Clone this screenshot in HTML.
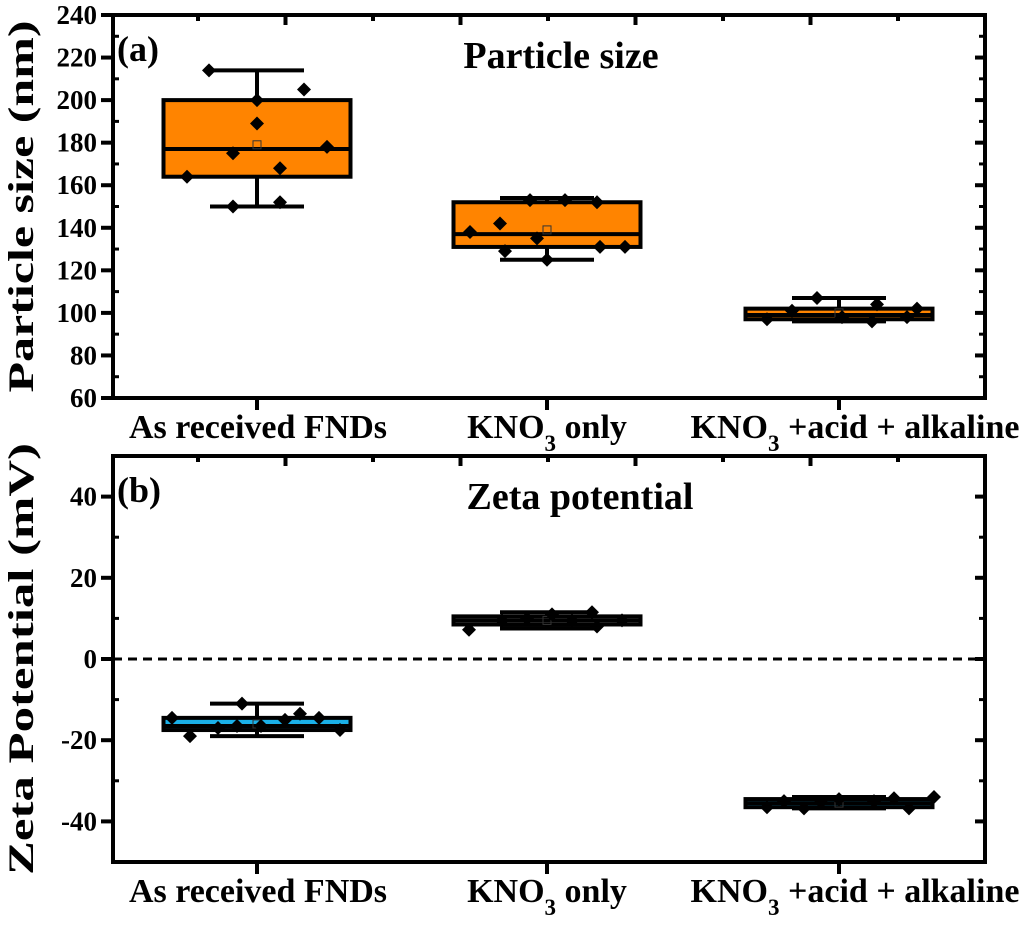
<!DOCTYPE html>
<html><head><meta charset="utf-8"><style>
body{margin:0;background:#fff}
svg text{font-family:"Liberation Serif",serif;font-weight:bold;fill:#000}
</style></head><body>
<svg id="c" width="1024" height="921" xmlns="http://www.w3.org/2000/svg"></svg>
<script>
const categories=["As received FNDs","KNO3 only","KNO3 +acid + alkaline"];
// panel a: [whiskLow,q1,median,q3,whiskHigh,mean]
const sizeStats=[[150,164,177,200,214,179],[125,131,137,152,154,139],[96,97,99,102,107,100]];
const sizePoints=[[214,205,200,189,178,175,168,164,152,150],[138,142,129,135,153,125,131,152,131,153],[97,101,107,98,96,104,98,102]];
const sizeOffsets=[[-48,47,0,0,70,-24,23,-70,23,-24],[-77,-47,-42,-10,-17,0,53,50,78,18],[-72,-47,-22,3,33,38,68,78]];
const sizeTicks=[60,80,100,120,140,160,180,200,220,240];
const zetaStats=[[-19,-17.5,-16.5,-14.5,-11,-16],[7.5,8.5,9.5,10.5,11.5,9.5],[-36.8,-36.5,-35.5,-34.5,-34,-35.5]];
const zetaPoints=[[-14.5,-19,-17,-16.5,-11,-16.5,-15,-13.5,-14.5,-17.5],[7.2,9.5,10,11,9.5,11.5,8,9.5],[-36.5,-35,-36.8,-35.2,-34.5,-35,-34.3,-36.8,-34]];
const zetaOffsets=[[-85,-67,-39,-20,-15,4,28,43,62,83],[-78,-45,-20,5,25,45,50,75],[-72,-55,-35,-18,0,35,55,70,95]];
const zetaTicks=[-40,-20,0,20,40];
const NS="http://www.w3.org/2000/svg";const svg=document.getElementById('c');
function el(t,a,p){const e=document.createElementNS(NS,t);for(const k in a)e.setAttribute(k,a[k]);(p||svg).appendChild(e);return e;}
const L=113,R=985,cx=[257,547,839],bw=187;
function panel(top,bot,min,max,stats,pts,offs,ticks,fills,title,titleX,lab,ytitle,ytLen,pid,dash){
 const y=v=>bot-(v-min)/(max-min)*(bot-top);
 const g=el('g',{});
 if(dash!==undefined){const d=el('line',{x1:L,x2:R,y1:y(0),y2:y(0),stroke:'#000','stroke-width':3,'stroke-dasharray':'9,6'},g);}
 stats.forEach((s,i)=>{const c=cx[i];const b=el('g',{},g);
  el('line',{x1:c,x2:c,y1:y(s[0]),y2:y(s[1]),stroke:'#000','stroke-width':4},b);
  el('line',{x1:c,x2:c,y1:y(s[3]),y2:y(s[4]),stroke:'#000','stroke-width':4},b);
  el('line',{x1:c-47,x2:c+47,y1:y(s[0]),y2:y(s[0]),stroke:'#000','stroke-width':4},b);
  el('line',{x1:c-47,x2:c+47,y1:y(s[4]),y2:y(s[4]),stroke:'#000','stroke-width':4},b);
  el('rect',{x:c-bw/2,y:y(s[3]),width:bw,height:y(s[1])-y(s[3]),fill:fills[i],stroke:'#000','stroke-width':4},b);
  el('line',{x1:c-bw/2,x2:c+bw/2,y1:y(s[2]),y2:y(s[2]),stroke:'#000','stroke-width':4},b);
  el('rect',{x:c-4,y:y(s[5])-4,width:8,height:8,fill:'none',stroke:'#333','stroke-width':1},b);
  pts[i].forEach((v,j)=>{const px=c+offs[i][j],py=y(v);const p=el('polygon',{points:`${px},${py-7} ${px+7},${py} ${px},${py+7} ${px-7},${py}`,fill:'#000'},b);});
 });
 const f=el('rect',{x:L,y:top,width:R-L,height:bot-top,fill:'none',stroke:'#000','stroke-width':4},g);
 const step=ticks[1]-ticks[0];
 ticks.forEach((t,k)=>{const ty=y(t);el('line',{x1:L-12,x2:L,y1:ty,y2:ty,stroke:'#000','stroke-width':4},g);el('line',{x1:R-10,x2:R,y1:ty,y2:ty,stroke:'#000','stroke-width':4},g);
  if(k<ticks.length-1){const my=y(t+step/2);el('line',{x1:L,x2:L+6,y1:my,y2:my,stroke:'#000','stroke-width':3},g);el('line',{x1:R-6,x2:R,y1:my,y2:my,stroke:'#000','stroke-width':3},g);}
  const tx=el('text',{x:L-16,y:ty+9,'text-anchor':'end','font-size':27},g);tx.textContent=t;});
 if(min<ticks[0]){const my=y(ticks[0]-step/2);el('line',{x1:L,x2:L+6,y1:my,y2:my,stroke:'#000','stroke-width':3},g);el('line',{x1:R-6,x2:R,y1:my,y2:my,stroke:'#000','stroke-width':3},g);}
 for(let i=0;i<10;i++){const x=198+i*87.5;if(x>=R)break;el('line',{x1:x,x2:x,y1:top,y2:top+(i%2?10:6),stroke:'#000','stroke-width':4},g);}
 cx.forEach(c=>el('line',{x1:c,x2:c,y1:bot,y2:bot+12,stroke:'#000','stroke-width':4},g));
 const tt=el('text',{x:titleX,y:top+53,'text-anchor':'middle','font-size':38},g);tt.textContent=title;
 const lb=el('text',{x:117,y:top+46,'font-size':36},g);lb.textContent=lab;
 const yt=el('text',{transform:`translate(33,${(top+bot)/2}) rotate(-90)`,'text-anchor':'middle','font-size':36,textLength:ytLen,lengthAdjust:'spacingAndGlyphs'},g);yt.textContent=ytitle;
 const xs=['As received FNDs','KNO<tspan baseline-shift="sub" font-size="23">3</tspan> only','KNO<tspan baseline-shift="sub" font-size="23">3</tspan> +acid + alkaline'];
 const xc=[258,547,855];
 xs.forEach((s,i)=>{const t=el('text',{x:xc[i],y:bot+40,'text-anchor':'middle','font-size':34},g);t.innerHTML=s;});
}
panel(15,398,60,240,sizeStats,sizePoints,sizeOffsets,sizeTicks,['#ff8400','#ff8400','#ff8400'],'Particle size',561,'(a)','Particle size (nm)',372,'panel-a');
panel(456,862,-50,50,zetaStats,zetaPoints,zetaOffsets,zetaTicks,['#1ab0e8','#ffffff','#1ab0e8'],'Zeta potential',580,'(b)','Zeta Potential (mV)',432,'panel-b',0);
</script>
</body></html>
